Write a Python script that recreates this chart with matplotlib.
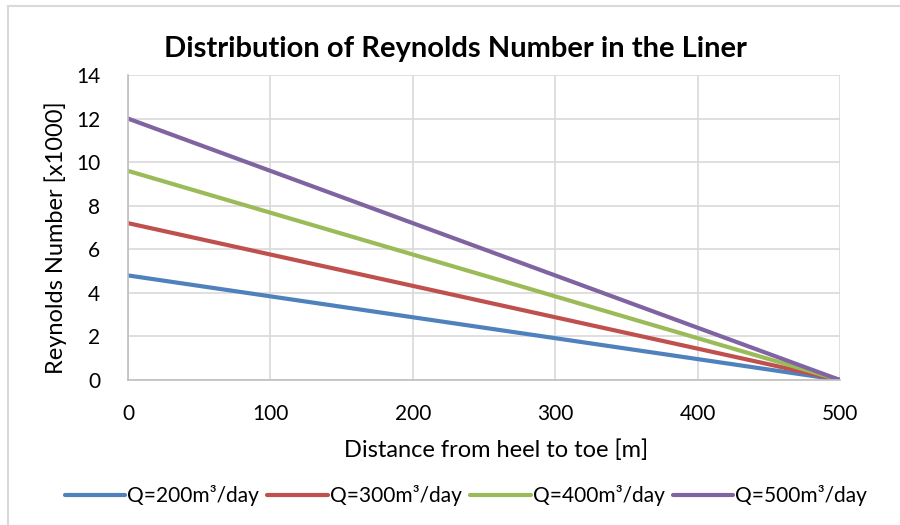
import matplotlib
matplotlib.use("Agg")
import matplotlib.pyplot as plt
from matplotlib.lines import Line2D

# ====== DATA ======================================
distance = [0, 100, 200, 300, 400, 500]
re_q200 = [4.8, 3.84, 2.88, 1.92, 0.96, 0.0]
re_q300 = [7.2, 5.76, 4.32, 2.88, 1.44, 0.0]
re_q400 = [9.6, 7.68, 5.76, 3.84, 1.92, 0.0]
re_q500 = [12.0, 9.6, 7.2, 4.8, 2.4, 0.0]
labels = ["Q=200m³/day", "Q=300m³/day", "Q=400m³/day", "Q=500m³/day"]
colors = ["#4F81BD", "#C0504D", "#9BBB59", "#8064A2"]

plt.rcParams["font.family"] = ["Lato", "DejaVu Sans"]

W, H = 900, 525
fig = plt.figure(figsize=(9, 5.25), dpi=100)
ax = fig.add_axes([128 / W, 1 - 380 / H, (840 - 128) / W, (380 - 75) / H])

for ys, lab, col in zip([re_q200, re_q300, re_q400, re_q500], labels, colors):
    ax.plot(distance, ys, color=col, lw=3, label=lab, solid_capstyle="round")

ax.set_xlim(0, 500)
ax.set_ylim(0, 14)
ax.set_xticks(range(0, 501, 100))
ax.set_yticks(range(0, 15, 2))
ax.grid(True, color="#D9D9D9", lw=1.2)
ax.set_axisbelow(True)
for s in ["top", "right"]:
    ax.spines[s].set_visible(False)
for s in ["left", "bottom"]:
    ax.spines[s].set_color("#BFBFBF")
    ax.spines[s].set_linewidth(1.2)
ax.tick_params(axis="x", length=0, labelsize=15, pad=17)
ax.tick_params(axis="y", length=0, labelsize=15, pad=20)

# axis titles and chart title placed in pixel positions
fig.text(496 / W, 1 - 450 / H, "Distance from heel to toe [m]",
         ha="center", va="center", fontsize=17)
fig.text(56 / W, 1 - 238 / H, "Reynolds Number [x1000]",
         ha="center", va="center", rotation=90, fontsize=17)
fig.text(455 / W, 1 - 49 / H, "Distribution of Reynolds Number in the Liner",
         ha="center", va="center", fontsize=21, fontweight="bold")

fig.legend(loc="center", bbox_to_anchor=(466 / W, 1 - 496 / H), ncol=4, frameon=False,
           fontsize=15, handlelength=2.9, handletextpad=0.1, columnspacing=0.4)

# chart-area border (only top and left edges fall inside the image)
fig.add_artist(Line2D([8 / W, 8 / W], [0, 1 - 6 / H], transform=fig.transFigure,
                      color="#D9D9D9", lw=1.5))
fig.add_artist(Line2D([8 / W, 1], [1 - 6 / H, 1 - 6 / H], transform=fig.transFigure,
                      color="#D9D9D9", lw=1.5))

fig.savefig("out.png", dpi=100)
